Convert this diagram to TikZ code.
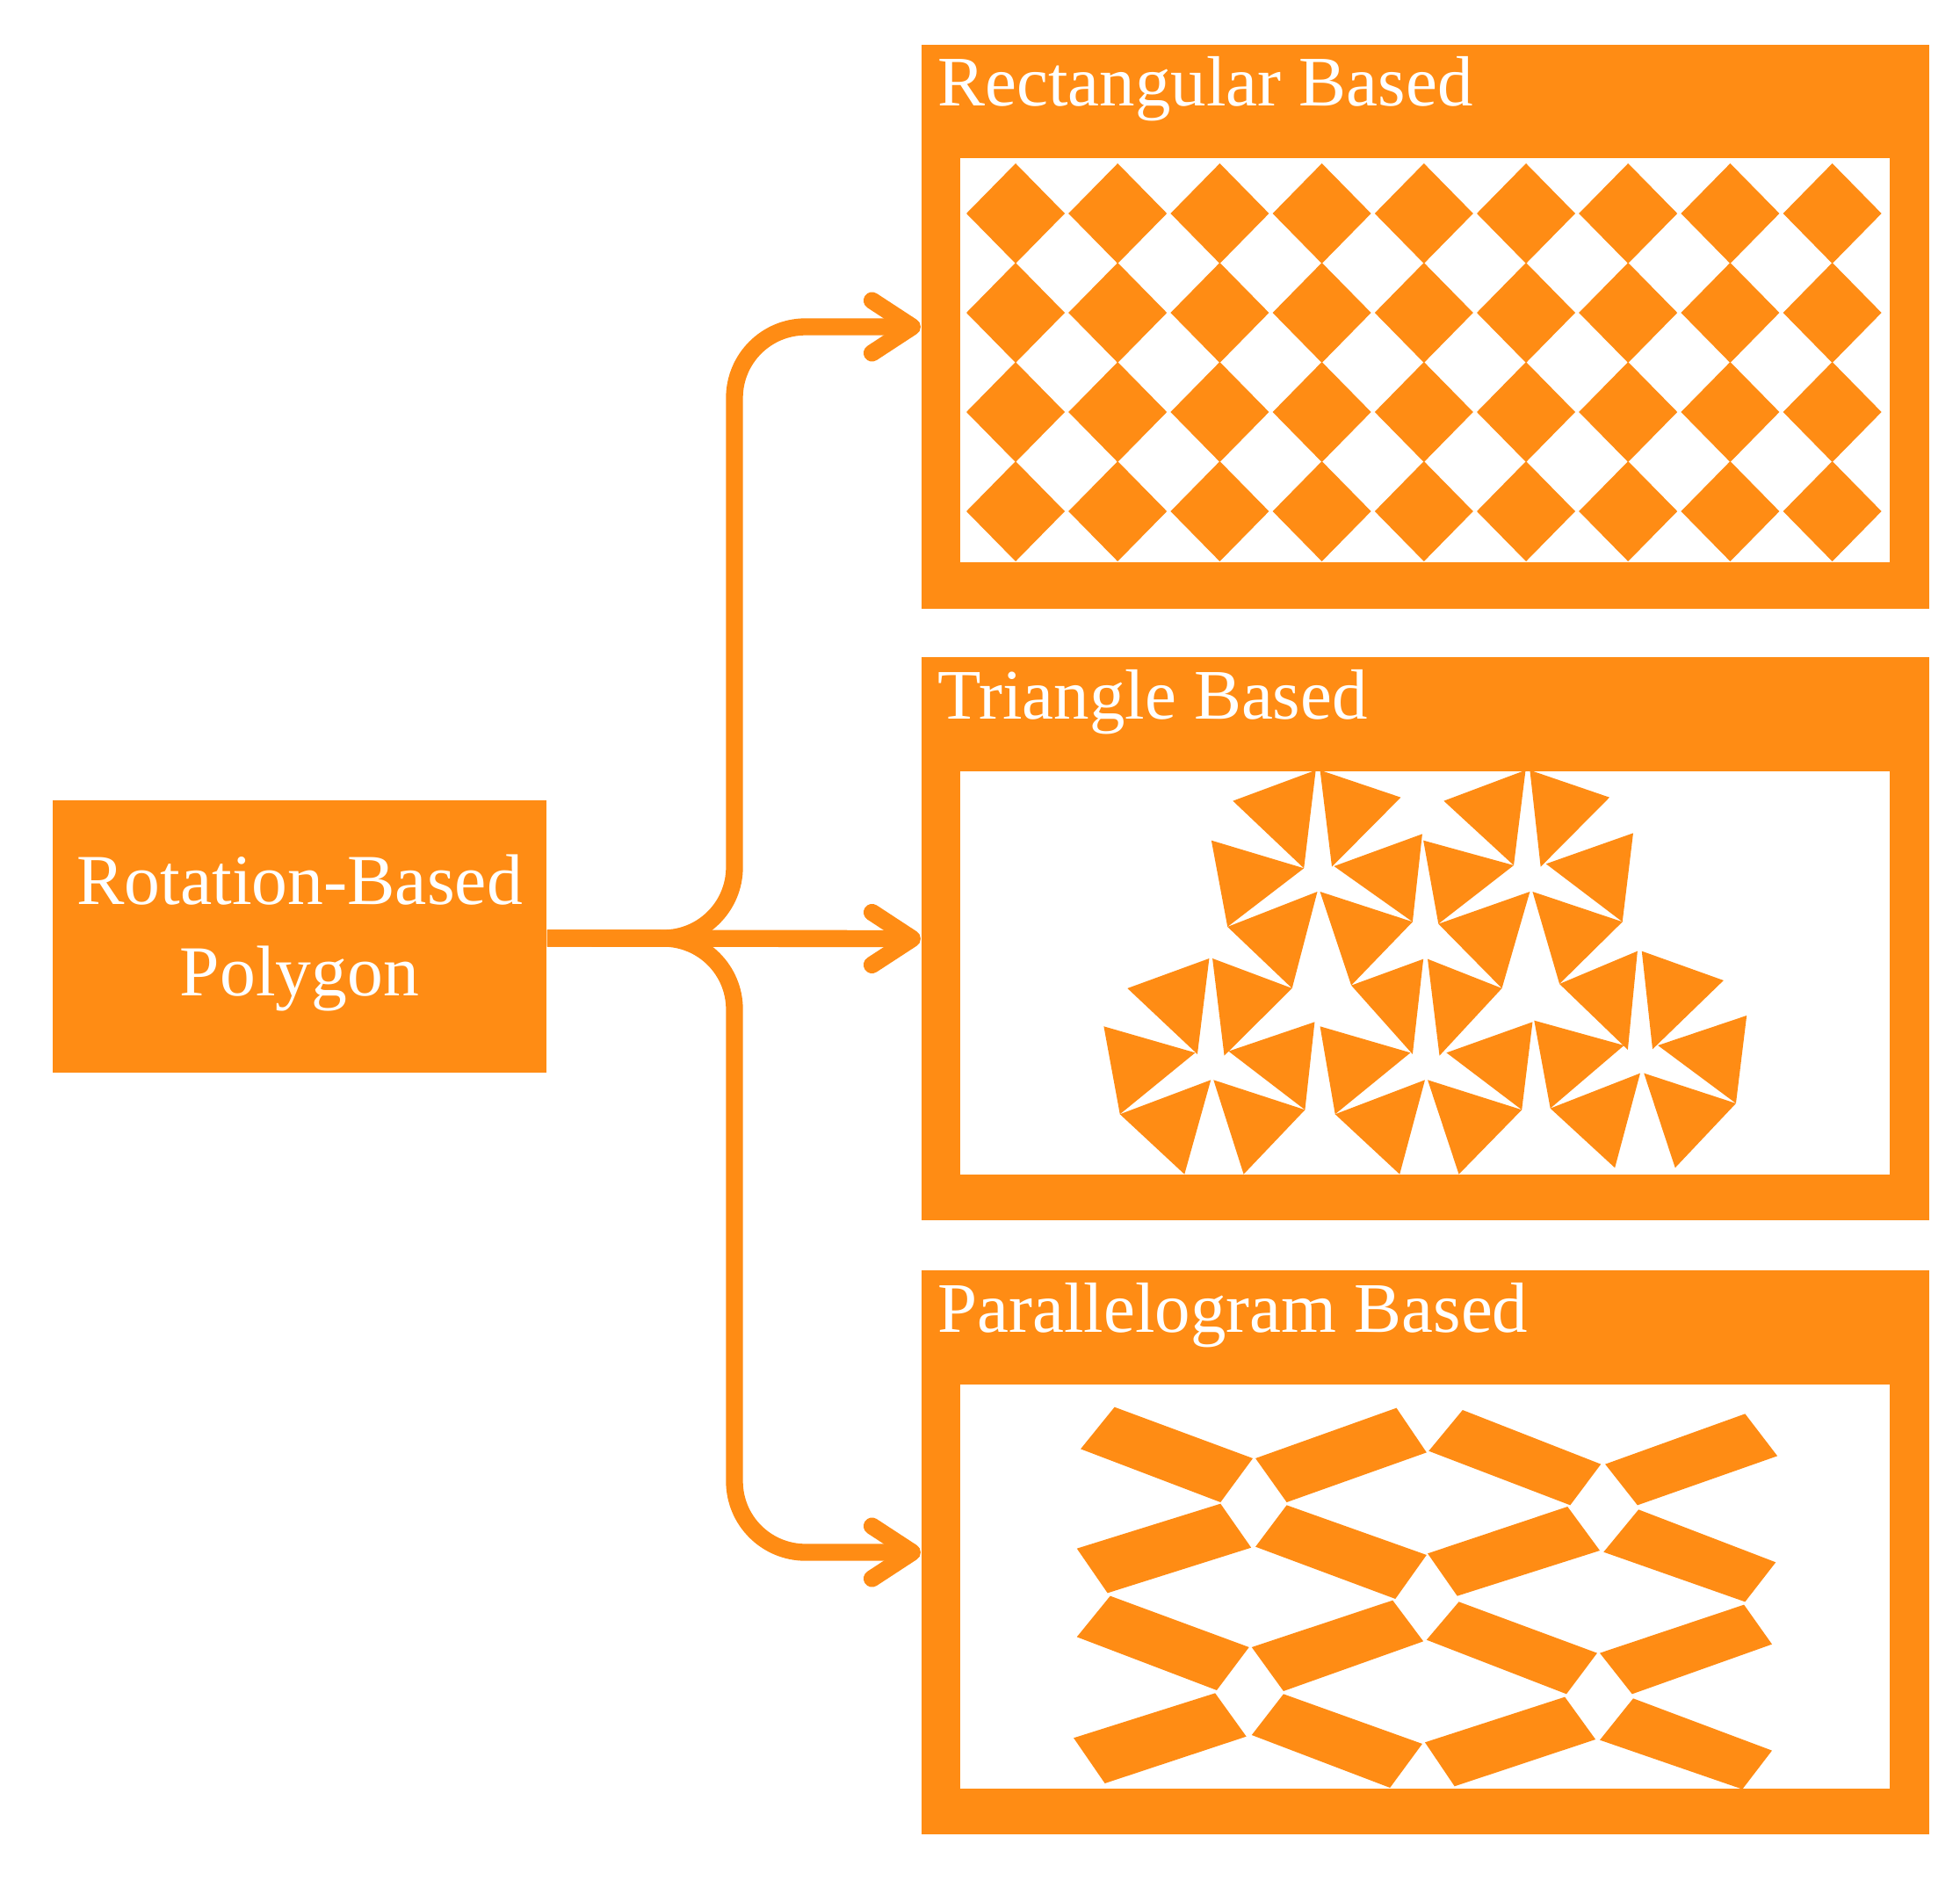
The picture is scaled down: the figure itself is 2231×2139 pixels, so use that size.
\documentclass[tikz,border=0pt]{standalone}
\usepackage{fontspec}
\setmainfont{Liberation Serif}
\usepackage{xcolor}
\usetikzlibrary{arrows.meta}
\definecolor{tileorange}{HTML}{FF8C14}
\tikzset{
	panel/.style={fill=tileorange,inner sep=0pt,minimum width=11.47cm,minimum height=6.41cm},
	tray/.style={fill=white,inner sep=0pt,minimum width=10.58cm,minimum height=4.59cm},
	paneltitle/.style={anchor=base west,inner sep=0pt,text=white,font=\fontsize{23}{28}\selectfont},
	flow/.style={draw=tileorange,line width=5.5pt,rounded corners=23pt,-{Straight Barb[length=13pt,width=17pt,round]}},
	tile/.style={fill=tileorange}
}
\begin{document}
\begin{tikzpicture}[x=0.01cm,y=-0.01cm]
	\useasboundingbox (0,0) rectangle (2231,2139);
	\node[fill=tileorange,inner sep=0pt,minimum width=5.62cm,minimum height=3.10cm,text=white,align=center,text depth=7.5pt,font=\fontsize{23.2}{29.5}\selectfont] (polygon) at (341,1066) {Rotation-Based\\Polygon};
	\node[panel] (rectangular) at (1622.5,372) {};
	\node[panel] (triangle) at (1622.5,1068.5) {};
	\node[panel] (parallelogram) at (1622.5,1767) {};
	\node[tray] (rectangulartray) at (1622,410) {};
	\node[tray] (triangletray) at (1622,1107.5) {};
	\node[tray] (parallelogramtray) at (1622,1806) {};
	\node[paneltitle] (rectangulartitle) at (1067,120) {Rectangular Based};
	\node[paneltitle] (triangletitle) at (1067,818) {Triangle Based};
	\node[paneltitle] (parallelogramtitle) at (1067,1516) {Parallelogram Based};
	\coordinate (fork) at (836,1068);
	\draw[flow] (polygon.east |- fork) -- (fork) |- (rectangular.west);
	\draw[flow] (polygon.east |- fork) -- (triangle.west);
	\draw[flow] (polygon.east |- fork) -- (fork) |- (parallelogram.west);
	% square tiles
	\foreach \i in {0,...,8}
		\foreach \j in {0,...,3}
			\fill[tile] ({1156+116.2*\i},{243+113*\j}) ++(-56,0) -- ++(56,-57) -- ++(56,57) -- ++(-56,57) -- cycle;
	% triangle tiles
	\begin{scope}[shift={(1080,860)},xscale=0.6124,yscale=0.3333]
		\foreach \xa/\ya/\xb/\yb/\xc/\yc in {
			682/50/528/155/660/385, 690/50/840/143/712/380, 488/290/660/385/518/585,
			880/268/716/378/862/568, 685/465/518/585/638/795, 690/465/862/568/748/785,
			1072/50/920/155/1050/375, 1080/50/1228/143/1100/380, 882/290/1050/375/910/575,
			1272/265/1110/370/1252/568, 1080/465/910/575/1028/795, 1085/465/1252/568/1135/780,
			484/693/332/795/462/1020, 490/693/638/795/512/1025, 288/925/458/1015/318/1225,
			680/910/520/1010/662/1210, 487/1108/318/1225/438/1430, 492/1108/662/1210/548/1430,
			882/695/748/785/862/1020, 890/695/1028/795/912/1025, 690/925/858/1015/718/1225,
			1085/910/925/1015/1065/1210, 885/1108/718/1225/838/1430, 890/1108/1065/1210/948/1430,
			1280/668/1135/780/1262/1005, 1288/668/1440/768/1308/1003, 1088/905/1255/990/1118/1205,
			1483/888/1318/990/1463/1188, 1285/1085/1118/1205/1238/1408, 1292/1085/1463/1188/1350/1408}
			\fill[tile] (\xa,\ya) -- (\xb,\yb) -- (\xc,\yc) -- cycle;
	\end{scope}
	% parallelogram tiles
	\begin{scope}[shift={(1080,1570)},xscale=0.6124,yscale=0.3333]
		\foreach \xa/\ya/\xb/\yb/\xc/\yc/\xd/\yd in {
			308/95/565/270/505/420/245/238, 832/98/888/250/628/420/570/270,
			955/105/1212/290/1155/430/892/245, 1480/118/1540/262/1280/430/1220/290,
			505/425/562/575/295/730/238/578, 628/430/888/600/830/750/570/572,
			1150/435/1210/585/945/740/890/595, 1282/445/1537/625/1480/760/1217/590,
			300/740/558/915/498/1062/238/880, 825/755/882/895/622/1065/563/915,
			948/760/1205/935/1148/1075/888/890, 1478/770/1530/905/1270/1075/1210/935,
			495/1072/553/1220/290/1380/232/1225, 622/1075/880/1245/820/1395/563/1215,
			1145/1085/1202/1230/940/1390/885/1240, 1272/1090/1530/1268/1475/1400/1210/1232}
			\fill[tile] (\xa,\ya) -- (\xb,\yb) -- (\xc,\yc) -- (\xd,\yd) -- cycle;
	\end{scope}
\end{tikzpicture}
\end{document}
